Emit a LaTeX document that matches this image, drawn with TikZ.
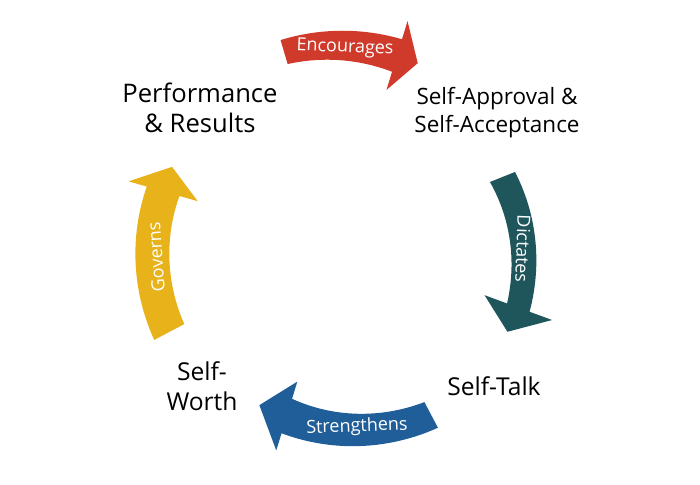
\documentclass[tikz,border=0pt]{standalone}
\usepackage{fontspec}
\setmainfont{Open Sans}
\usepackage{tikz}
\usetikzlibrary{positioning}
\definecolor{encred}{HTML}{D03A2B}
\definecolor{dictteal}{HTML}{1F565B}
\definecolor{strblue}{HTML}{1F5E99}
\definecolor{govgold}{HTML}{E8B21B}
% curved band arrow: colour, tail angle, head angle, tip angle,
% tail radius, head radius, tail half width, head half width
\newcommand{\cyclearrow}[8]{%
  \fill[#1] plot[domain=#2:#3,samples=40]
      ({(#5+(#6-#5)*(\x-#2)/(#3-#2)+#7+(#8-#7)*(\x-#2)/(#3-#2))*cos(\x)},
       {(#5+(#6-#5)*(\x-#2)/(#3-#2)+#7+(#8-#7)*(\x-#2)/(#3-#2))*sin(\x)})
    -- (#3:{#6+36}) -- (#4:#6) -- (#3:{#6-36})
    -- plot[domain=#3:#2,samples=40]
      ({(#5+(#6-#5)*(\x-#2)/(#3-#2)-#7-(#8-#7)*(\x-#2)/(#3-#2))*cos(\x)},
       {(#5+(#6-#5)*(\x-#2)/(#3-#2)-#7-(#8-#7)*(\x-#2)/(#3-#2))*sin(\x)})
    -- cycle;}

\begin{document}
\begin{tikzpicture}[x=0.025cm,y=0.025cm,
  stage/.style={align=center,font=\fontsize{17.5}{21.5}\selectfont},
  verb/.style={text=white,font=\fontsize{12.8}{14}\selectfont}]
\useasboundingbox (0,0) rectangle (700,485);
% the four arrows round the cycle
\begin{scope}[shift={(340,243)}]
\cyclearrow{encred}{106.4}{73}{66.5}{198}{195}{12.5}{17}
\cyclearrow{dictteal}{21.8}{-20.2}{-28.2}{175}{190}{13.5}{12}
\cyclearrow{strblue}{-62.2}{-107}{-116.3}{195.5}{182}{14.5}{18}
\cyclearrow{govgold}{207.8}{164}{155.9}{193}{184}{17}{17}
\node[verb,rotate=-2.5] (encourages) at (5,194) {Encourages};
\node[verb,rotate=-92] (dictates) at (183,-7) {Dictates};
\node[verb,rotate=2] (strengthens) at (17,-185) {Strengthens};
\node[verb,rotate=94] (governs) at (-184,-15) {Governs};
\end{scope}
% the four stages
\node[stage,font=\fontsize{18.2}{21.5}\selectfont] (performance) at (200,377) {Performance\\\& Results};
\node[stage,font=\fontsize{16}{20}\selectfont] (approval) at (497,372) {Self-Approval \&\\Self-Acceptance};
\node[stage] (selftalk) at (494,99) {Self-Talk};
\node[stage] (selfworth) at (202,99) {Self-\\Worth};
\end{tikzpicture}
\end{document}
